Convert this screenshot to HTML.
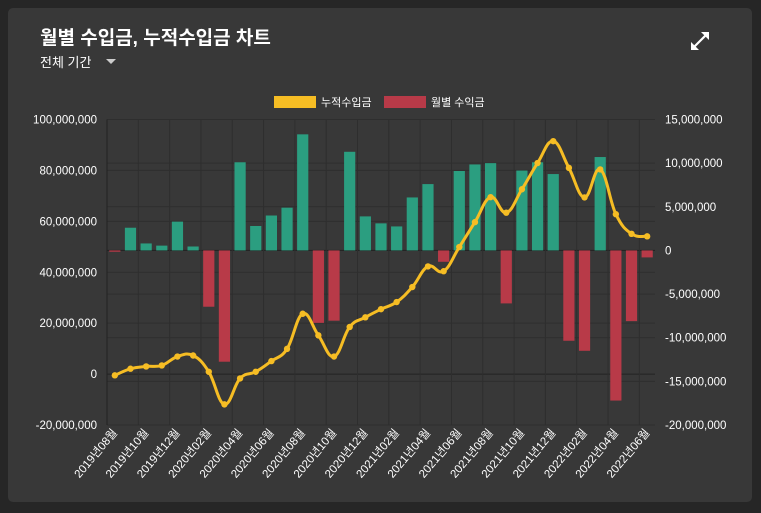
<!DOCTYPE html>
<html><head><meta charset="utf-8"><style>
html,body{margin:0;padding:0;background:#262626;width:761px;height:513px;overflow:hidden;font-family:"Liberation Sans","Noto Sans CJK KR",sans-serif;}
#card{position:absolute;left:8px;top:8px;width:744px;height:494px;background:#383838;border-radius:5px;}
#title{position:absolute;left:40px;top:23px;color:#fff;font-size:19px;font-weight:bold;}
#period{position:absolute;left:40px;top:52px;color:#fff;font-size:13px;}
#caret{position:absolute;left:106px;top:59px;width:0;height:0;border-left:5px solid transparent;border-right:5px solid transparent;border-top:5px solid #ccc;}
svg{position:absolute;left:0;top:0;}
</style></head><body>
<div id="card"></div>
<div id="title">월별 수입금, 누적수입금 차트</div>
<div id="period">전체 기간</div>
<div id="caret"></div>
<svg id="chart" width="761" height="513">
  <g stroke="#fff" stroke-width="2.2" fill="#fff">
    <line x1="693" y1="48" x2="707" y2="34"/>
    <polygon points="709,32 701,32 709,40" stroke="none"/>
    <polygon points="691,50 699,50 691,42" stroke="none"/>
  </g>
  <g font-size="11" fill="#fff">
    <rect x="274" y="96" width="42" height="12" fill="#f6bd24"/>
    <text x="321" y="106">누적수입금</text>
    <rect x="384" y="96" width="42" height="12" fill="#b83a48"/>
    <text x="431" y="106">월별 수익금</text>
  </g>
</svg>
<script>
const categories = ["2019년08월","2019년09월","2019년10월","2019년11월","2019년12월","2020년01월","2020년02월","2020년03월","2020년04월","2020년05월","2020년06월","2020년07월","2020년08월","2020년09월","2020년10월","2020년11월","2020년12월","2021년01월","2021년02월","2021년03월","2021년04월","2021년05월","2021년06월","2021년07월","2021년08월","2021년09월","2021년10월","2021년11월","2021년12월","2022년01월","2022년02월","2022년03월","2022년04월","2022년05월","2022년06월"];
const monthlyValues = [-0.15,2.6,0.8,0.55,3.3,0.45,-6.45,-12.75,10.1,2.8,4.0,4.9,13.3,-8.3,-8.05,11.3,3.9,3.1,2.75,6.07,7.6,-1.3,9.1,9.85,10.0,-6.07,9.15,10.1,8.75,-10.35,-11.5,10.7,-17.2,-8.1,-0.8];
const cumulativeValues = [-0.5,2.1,3.0,3.4,6.9,7.3,0.9,-11.9,-1.7,0.9,5.1,9.9,23.7,15.2,6.9,18.5,22.3,25.5,28.3,34.2,42.3,40.4,49.9,59.7,69.5,63.4,72.6,82.9,91.5,81.0,69.4,80.4,62.8,55.1,54.1];
const leftTicks = [100,80,60,40,20,0,-20];
const rightTicks = [15,10,5,0,-5,-10,-15,-20];

const NS="http://www.w3.org/2000/svg", svg=document.getElementById('chart');
const X0=107,X1=655,Y0=119.5,Y1=425;
const band=(X1-X0)/categories.length;
const xc=i=>X0+band*(i+0.5);
const yL=v=>Y0+(100-v)/120*(Y1-Y0);
const yR=v=>Y0+(15-v)/35*(Y1-Y0);
function el(t,a,p){const e=document.createElementNS(NS,t);for(const k in a)e.setAttribute(k,a[k]);(p||svg).appendChild(e);return e;}
const grid=el('g',{});


leftTicks.forEach(v=>{
  el('line',{x1:X0,x2:X1,y1:yL(v),y2:yL(v),stroke:v===0||v===-20?'#222':'#2e2e2e','stroke-width':1},grid);
  const t=el('text',{x:X0-10,y:yL(v)+4,'text-anchor':'end','font-size':11.5,fill:'#fff'});
  t.textContent=(v*1e6).toLocaleString('en-US');
  
  
});
rightTicks.forEach(v=>{
  el('line',{x1:X0,x2:X1,y1:yR(v),y2:yR(v),stroke:v===0?'#222':'#2e2e2e','stroke-width':1},grid);
  const t=el('text',{x:X1+10,y:yR(v)+4,'text-anchor':'start','font-size':11.5,fill:'#fff'});
  t.textContent=(v*1e6).toLocaleString('en-US');
  
  
});
for(let i=0;i<=categories.length;i+=2){
  const x=X0+band*i;
  el('line',{x1:x,x2:x,y1:Y0,y2:Y1,stroke:i===0?'#222':'#2e2e2e'},grid);
}
monthlyValues.forEach((v,i)=>{
  const y0=yR(0),y=yR(v);
  const r=el('rect',{x:xc(i)-5.6,y:Math.min(y,y0),width:11.2,height:Math.max(Math.abs(y-y0),0.8),fill:v>=0?'#2b9e80':'#b83a48'});
  
  
});
const pts=cumulativeValues.map((v,i)=>[xc(i),yL(v)]);
let d='M'+pts[0][0]+','+pts[0][1];
const tension=0.2;
for(let i=0;i<pts.length-1;i++){
  const p0=pts[i-1]||pts[i],p1=pts[i],p2=pts[i+1],p3=pts[i+2]||p2;
  const c1=[p1[0]+(p2[0]-p0[0])*tension,p1[1]+(p2[1]-p0[1])*tension];
  const c2=[p2[0]-(p3[0]-p1[0])*tension,p2[1]-(p3[1]-p1[1])*tension];
  d+=` C${c1[0]},${c1[1]} ${c2[0]},${c2[1]} ${p2[0]},${p2[1]}`;
}
const line=el('path',{d:d,fill:'none',stroke:'#f6bd24','stroke-width':3});


pts.forEach((p,i)=>{
  const c=el('circle',{cx:p[0],cy:p[1],r:3.2,fill:'#f6bd24'});
  
  
});
categories.forEach((c,i)=>{
  if(i%2) return;
  const x=xc(i)+3,y=Y1+8;
  const t=el('text',{x:x,y:y,'text-anchor':'end','font-size':11.5,fill:'#fff',transform:`rotate(-50 ${x} ${y})`});
  t.textContent=c;
  
  
});
</script>
</body></html>
